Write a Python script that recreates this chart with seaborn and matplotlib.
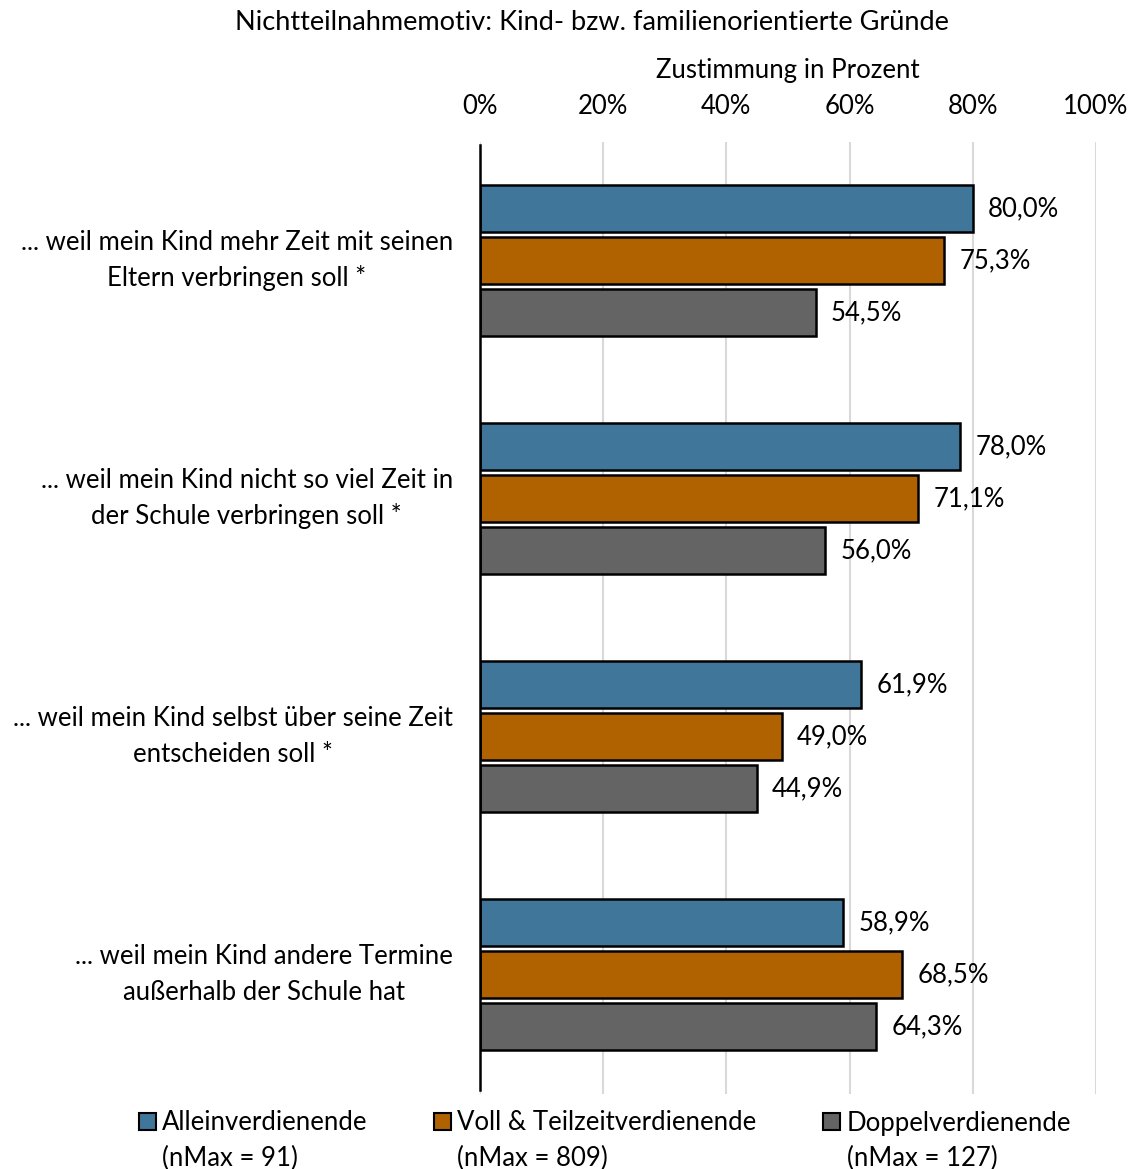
import numpy as np
import pandas as pd
import matplotlib
matplotlib.use("Agg")
import matplotlib.pyplot as plt
import seaborn as sns
from matplotlib.patches import Patch

categories = [
    "... weil mein Kind mehr Zeit mit seinen\nEltern verbringen soll *",
    "... weil mein Kind nicht so viel Zeit in\nder Schule verbringen soll *",
    "... weil mein Kind selbst über seine Zeit\nentscheiden soll *",
    "... weil mein Kind andere Termine\naußerhalb der Schule hat",
]
groups = ["Alleinverdienende", "Voll & Teilzeitverdienende", "Doppelverdienende"]
group_n = ["(nMax = 91)", "(nMax = 809)", "(nMax = 127)"]
allein = [80.0, 78.0, 61.9, 58.9]
voll_teil = [75.3, 71.1, 49.0, 68.5]
doppel = [54.5, 56.0, 44.9, 64.3]
x_ticks = [0, 20, 40, 60, 80, 100]

colors = ["#41769B", "#B06200", "#646464"]

rows = []
for series, vals in zip(groups, [allein, voll_teil, doppel]):
    for cat, v in zip(categories, vals):
        rows.append({"Kategorie": cat, "Gruppe": series, "Wert": v})
df = pd.DataFrame(rows)

sns.set_theme(style="white")
plt.rcParams["font.family"] = ["Lato", "DejaVu Sans"]
plt.rcParams["text.color"] = "black"
plt.rcParams["xtick.color"] = "black"
plt.rcParams["ytick.color"] = "black"
plt.rcParams["axes.labelcolor"] = "black"

FS = 18.5
W, H = 1130, 1169

fig = plt.figure(figsize=(W / 100, H / 100), dpi=100)
ax = fig.add_axes([480 / W, 1 - 1093.5 / H, 616 / W, 952 / H])

sns.barplot(data=df, y="Kategorie", x="Wert", hue="Gruppe", orient="h",
            palette=colors, saturation=1, width=0.655, gap=0.08, edgecolor="black",
            linewidth=1.8, ax=ax, legend=False)

for cont in ax.containers:
    ax.bar_label(cont, labels=[f"{v:.1f}".replace(".", ",") + "%" for v in cont.datavalues],
                 padding=11, fontsize=FS, color="black")

ax.set_xlim(0, 100)
ax.set_ylim(3.5, -0.5)
ax.set_xticks(x_ticks)
ax.set_xticklabels([f"{t}%" for t in x_ticks])
ax.xaxis.tick_top()
ax.xaxis.set_label_position("top")
ax.set_xlabel("Zustimmung in Prozent", fontsize=FS, labelpad=11)
ax.set_ylabel("")
ax.tick_params(axis="x", length=0, pad=16.5, labelsize=FS)
ax.tick_params(axis="y", length=0, pad=19.5, labelsize=FS)
for lab in ax.get_yticklabels():
    lab.set_horizontalalignment("right")
    lab.set_multialignment("center")
    lab.set_verticalalignment("center")
    lab.set_linespacing(1.5)

ax.grid(axis="x", color="#D9D9D9", linewidth=1.5)
ax.set_axisbelow(True)
for side in ["top", "right", "bottom"]:
    ax.spines[side].set_visible(False)
ax.spines["left"].set_color("black")
ax.spines["left"].set_linewidth(1.8)
ax.spines["left"].set_bounds(-0.485, 3.485)

fig.text(592 / W, 1 - 22 / H, "Nichtteilnahmemotiv: Kind- bzw. familienorientierte Gründe",
         ha="center", va="center", fontsize=19.5)

handles = [Patch(facecolor=c, edgecolor="black", linewidth=1.5) for c in colors]
leg = fig.legend(handles, groups, loc="center", bbox_to_anchor=(605 / W, 1 - 1123 / H), ncol=3,
                 frameon=False, fontsize=FS, handlelength=0.65, handleheight=0.65,
                 handletextpad=0.25, columnspacing=2.6, borderpad=0)

# second legend line (nMax) below each entry, left-aligned with its text
fig.canvas.draw()
renderer = fig.canvas.get_renderer()
for txt, n in zip(leg.get_texts(), group_n):
    bb = txt.get_window_extent(renderer)
    fig.text(bb.x0 / W, (bb.y0 + bb.y1) / 2 / H - 35 / H, n,
             ha="left", va="center", fontsize=FS)

fig.savefig("out.png", dpi=100)
